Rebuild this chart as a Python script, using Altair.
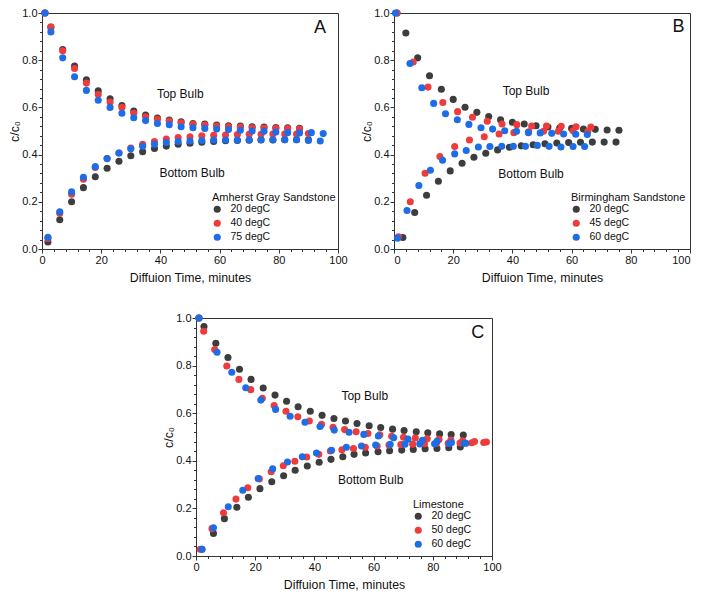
import altair as alt
import pandas as pd

FONT = "Liberation Sans"
GRAY, RED, BLUE = "#3d3d3d", "#f03b3b", "#1c6de6"

# ---------------- Panel A : Amherst Gray Sandstone ----------------
A_labels = ["20 degC", "40 degC", "75 degC"]
A20_top_t = [1, 3, 7, 11, 15, 19, 23, 27, 31, 35, 39, 43, 47, 51, 55, 59, 63, 67, 71, 75, 79, 83, 87]
A20_top_c = [1.0, 0.94, 0.845, 0.775, 0.717, 0.67, 0.637, 0.608, 0.585, 0.568, 0.555, 0.546, 0.539,
             0.532, 0.529, 0.525, 0.522, 0.521, 0.518, 0.517, 0.515, 0.514, 0.512]
A20_bot_t = [2, 6, 10, 14, 18, 22, 26, 30, 34, 38, 42, 46, 50, 54, 58, 62, 66, 70, 74, 78, 82, 86, 90]
A20_bot_c = [0.03, 0.124, 0.2, 0.26, 0.306, 0.342, 0.372, 0.395, 0.412, 0.426, 0.436, 0.444, 0.448,
             0.452, 0.456, 0.459, 0.46, 0.461, 0.462, 0.462, 0.463, 0.463, 0.463]
A40_top_t = [1, 3, 7, 11, 15, 19, 23, 27, 31, 35, 39, 43, 47, 51, 55, 59, 63, 67, 71, 75, 79, 83, 87]
A40_top_c = [1.0, 0.94, 0.84, 0.765, 0.703, 0.655, 0.623, 0.6, 0.575, 0.56, 0.55, 0.542, 0.535,
             0.528, 0.525, 0.521, 0.518, 0.517, 0.514, 0.513, 0.511, 0.51, 0.508]
A40_bot_t = [2, 6, 10, 14, 18, 22, 26, 30, 34, 38, 42, 46, 50, 54, 58, 62, 66, 70, 74, 78, 82, 86, 90]
A40_bot_c = [0.045, 0.152, 0.232, 0.296, 0.345, 0.383, 0.407, 0.428, 0.444, 0.455, 0.466, 0.472, 0.476,
             0.48, 0.482, 0.483, 0.485, 0.486, 0.486, 0.487, 0.487, 0.487, 0.489]
A75_top_t = [1, 3, 7, 11, 15, 19, 23, 27, 31, 35, 39, 43, 47, 51, 55, 59, 63, 67, 71, 75, 79, 83, 87, 91, 95]
A75_top_c = [1.0, 0.92, 0.81, 0.73, 0.672, 0.63, 0.6, 0.575, 0.556, 0.544, 0.532, 0.527, 0.518,
             0.514, 0.511, 0.508, 0.506, 0.503, 0.5, 0.499, 0.496, 0.493, 0.492, 0.493, 0.489]
A75_bot_t = [2, 6, 10, 14, 18, 22, 26, 30, 34, 38, 42, 46, 50, 54, 58, 62, 66, 70, 74, 78, 82, 86, 90, 94]
A75_bot_c = [0.05, 0.158, 0.242, 0.304, 0.349, 0.383, 0.407, 0.425, 0.435, 0.444, 0.451, 0.455, 0.458,
             0.46, 0.462, 0.462, 0.462, 0.463, 0.463, 0.463, 0.463, 0.463, 0.46, 0.458]

# ---------------- Panel B : Birmingham Sandstone ----------------
B_labels = ["20 degC", "45 degC", "60 degC"]
B20_top_t = [1, 4, 8, 12, 16, 20, 24, 28, 32, 36, 40, 44, 48, 52, 56, 60, 64, 68, 72, 76]
B20_top_c = [1.0, 0.915, 0.81, 0.734, 0.677, 0.634, 0.601, 0.579, 0.561, 0.548, 0.537, 0.53, 0.522,
             0.517, 0.514, 0.511, 0.508, 0.507, 0.504, 0.503]
B20_bot_t = [3, 7, 11, 15, 19, 23, 27, 31, 35, 39, 43, 47, 51, 55, 59, 63, 67, 71, 75]
B20_bot_c = [0.049, 0.155, 0.228, 0.287, 0.331, 0.363, 0.389, 0.406, 0.42, 0.431, 0.437, 0.442, 0.446,
             0.449, 0.451, 0.452, 0.453, 0.453, 0.453]
B45_top_t = [1, 6.5, 11.5, 16.5, 21.5, 26.5, 31.5, 36.5, 41.5, 46.5, 51.5, 56.5, 61.5, 66.5]
B45_top_c = [1.0, 0.792, 0.686, 0.621, 0.582, 0.558, 0.541, 0.53, 0.527, 0.521, 0.521, 0.52, 0.518, 0.517]
B45_bot_t = [1.5, 5.5, 10.5, 15.5, 20.5, 25.5, 30.5, 35.5, 40.5, 45.5, 50.5, 55.5, 60.5, 65.5]
B45_bot_c = [0.052, 0.2, 0.321, 0.392, 0.434, 0.462, 0.476, 0.487, 0.493, 0.497, 0.499, 0.499, 0.501, 0.499]
B60_top_t = [0.5, 5.4, 9.4, 13.4, 17.4, 21.4, 25.3, 29.4, 33.3, 37.4, 41.4, 45.4, 49.4, 53.3, 57.3, 61.4, 65.3]
B60_top_c = [1.0, 0.786, 0.683, 0.617, 0.573, 0.548, 0.528, 0.514, 0.508, 0.501, 0.499, 0.493, 0.492,
             0.49, 0.487, 0.486, 0.485]
B60_bot_t = [1.2, 4.4, 8.4, 12.3, 16.4, 20.5, 24.4, 28.5, 32.4, 36.4, 40.3, 44.4, 48.4, 52.4, 56.4, 60.5, 64.4]
B60_bot_c = [0.046, 0.163, 0.269, 0.334, 0.376, 0.403, 0.417, 0.432, 0.434, 0.435, 0.435, 0.435, 0.439,
             0.435, 0.432, 0.434, 0.434]

# ---------------- Panel C : Limestone ----------------
C_labels = ["20 degC", "50 degC", "60 degC"]
C20_top_t = [1, 2.7, 6.7, 10.8, 14.7, 18.6, 22.7, 26.7, 30.6, 34.5, 38.6, 42.6, 46.6, 50.5, 54.4, 58.5,
             62.4, 66.4, 70.3, 74.4, 78.3, 82.3, 86.2, 90.3]
C20_top_c = [1.0, 0.964, 0.894, 0.834, 0.785, 0.742, 0.706, 0.676, 0.65, 0.627, 0.608, 0.591, 0.578,
             0.567, 0.557, 0.547, 0.54, 0.533, 0.527, 0.522, 0.518, 0.513, 0.51, 0.508]
C20_bot_t = [2, 5.9, 9.6, 13.8, 17.7, 21.6, 25.6, 29.6, 33.5, 37.6, 41.6, 45.6, 49.6, 53.4, 57.3, 61.5,
             65.4, 69.5, 73.4, 77.4, 81.4, 85.4, 89.3]
C20_bot_c = [0.028, 0.095, 0.157, 0.205, 0.247, 0.283, 0.312, 0.337, 0.36, 0.378, 0.394, 0.406, 0.417,
             0.427, 0.433, 0.438, 0.442, 0.445, 0.448, 0.451, 0.452, 0.455, 0.458]
C50_top_t = [1, 2.6, 6.3, 10.4, 14.5, 18.5, 22.4, 26.4, 30.4, 34.4, 38.3, 42.4, 46.3, 50.2, 54.1, 58.1,
             62.1, 66.1, 70.1, 74.1, 78.1, 82.1, 86.1, 90.1, 94.1, 98.1]
C50_top_c = [1.0, 0.944, 0.868, 0.798, 0.742, 0.699, 0.663, 0.632, 0.608, 0.585, 0.567, 0.553, 0.541,
             0.531, 0.522, 0.515, 0.509, 0.503, 0.499, 0.496, 0.493, 0.49, 0.487, 0.484, 0.481, 0.479]
C50_bot_t = [1.4, 5.4, 9.3, 13.5, 17.5, 21.4, 25.4, 29.5, 33.4, 37.4, 41.5, 45.4, 49.3, 53.2, 57.2, 61.2,
             65.2, 69.2, 73.2, 77.2, 81.2, 85.2, 89.2, 93.2, 97.2]
C50_bot_c = [0.028, 0.115, 0.182, 0.239, 0.287, 0.324, 0.354, 0.379, 0.398, 0.416, 0.427, 0.441, 0.446,
             0.452, 0.457, 0.462, 0.466, 0.468, 0.47, 0.472, 0.473, 0.474, 0.475, 0.476, 0.477]
C60_top_t = [1, 7.1, 12.1, 16.8, 21.9, 26.9, 31.8, 36.8, 41.9, 46.7, 51.7, 56.7, 61.6, 66.8, 71.6, 76.5,
             81.4, 86.3, 91.2]
C60_top_c = [1.0, 0.856, 0.772, 0.707, 0.655, 0.616, 0.587, 0.562, 0.544, 0.529, 0.52, 0.511, 0.504,
             0.497, 0.491, 0.486, 0.482, 0.477, 0.474]
C60_bot_t = [2, 5.9, 10.9, 15.8, 21, 25.9, 30.9, 35.9, 40.7, 45.8, 50.8, 55.9, 60.7, 65.6, 70.6, 75.6,
             80.6, 85.6, 90.6]
C60_bot_c = [0.028, 0.119, 0.207, 0.276, 0.326, 0.366, 0.395, 0.417, 0.433, 0.444, 0.457, 0.462, 0.466,
             0.469, 0.47, 0.471, 0.472, 0.473, 0.474]

# annotations (data coordinates)
ANN_TEXT = ["Top Bulb", "Bottom Bulb"]
A_ann_t, A_ann_c = [46.7, 50.7], [0.656, 0.322]
B_ann_t, B_ann_c = [44.6, 46.3], [0.67, 0.317]
C_ann_t, C_ann_c = [57.0, 59.0], [0.673, 0.319]
A_letter = ("A", 93.9, 0.935)
B_letter = ("B", 96.1, 0.94)
C_letter = ("C", 95.2, 0.936)

X_TICKS = list(range(0, 101, 4))
Y_TICKS = [round(i * 0.04, 2) for i in range(26)]
Y_MAJOR = "abs(datum.value*5 - round(datum.value*5)) < 0.001"


def xenc(flush):
    return alt.X("t:Q", scale=alt.Scale(domain=[0, 100], nice=False),
                 axis=alt.Axis(values=X_TICKS, title="Diffuion Time, minutes",
                               labelExpr="datum.value % 20 === 0 ? datum.label : ''",
                               tickSize={"condition": {"test": "datum.value % 20 === 0", "value": 4}, "value": 2.5},
                               labelFlush=flush, labelOverlap=False, labelPadding=1, titlePadding=6))


YENC = alt.Y("c:Q", scale=alt.Scale(domain=[0, 1], nice=False),
             axis=alt.Axis(values=Y_TICKS, title="c/c₀", format=".1f",
                           labelExpr=f"{Y_MAJOR} ? datum.label : ''",
                           tickSize={"condition": {"test": Y_MAJOR, "value": 4}, "value": 2.5},
                           labelOverlap=False, labelPadding=1, titlePadding=0))


def panel(key, series, labels, title, ann_t, ann_c, letter, legx, legy, flush=False, height=236):
    XENC = xenc(flush)
    rows = []
    for lab, (tt, cc, t2, c2) in zip(labels, series):
        for a, b in zip(tt, cc):
            rows.append({"t": a, "c": b, key: lab})
        for a, b in zip(t2, c2):
            rows.append({"t": a, "c": b, key: lab})
    df = pd.DataFrame(rows)
    pts = alt.Chart(df).mark_circle(size=50, opacity=1).encode(
        x=XENC, y=YENC,
        color=alt.Color(f"{key}:N", scale=alt.Scale(domain=labels, range=[GRAY, RED, BLUE]),
                        legend=alt.Legend(title=title, orient="none", legendX=legx, legendY=legy,
                                          titleFontWeight="normal", titleFontSize=11, labelFontSize=10.5,
                                          titleFont=FONT, labelFont=FONT, titleColor="#111", labelColor="#111",
                                          symbolType="circle", symbolSize=50, symbolOpacity=1,
                                          symbolStrokeWidth=0, titlePadding=1, rowPadding=3, labelOffset=8)),
    )
    adf = pd.DataFrame({"t": ann_t, "c": ann_c, "txt": ANN_TEXT})
    ann = alt.Chart(adf).mark_text(font=FONT, fontSize=12, color="#111").encode(x=XENC, y=YENC, text="txt:N")
    ldf = pd.DataFrame({"t": [letter[1]], "c": [letter[2]], "txt": [letter[0]]})
    let = alt.Chart(ldf).mark_text(font=FONT, fontSize=18, color="#111").encode(x=XENC, y=YENC, text="txt:N")
    return alt.layer(pts, ann, let).properties(width=296, height=height)


A = panel("sA", [(A20_top_t, A20_top_c, A20_bot_t, A20_bot_c),
                 (A40_top_t, A40_top_c, A40_bot_t, A40_bot_c),
                 (A75_top_t, A75_top_c, A75_bot_t, A75_bot_c)],
          A_labels, "Amherst Gray Sandstone", A_ann_t, A_ann_c, A_letter, 170, 179)
B = panel("sB", [(B20_top_t, B20_top_c, B20_bot_t, B20_bot_c),
                 (B45_top_t, B45_top_c, B45_bot_t, B45_bot_c),
                 (B60_top_t, B60_top_c, B60_bot_t, B60_bot_c)],
          B_labels, "Birmingham Sandstone", B_ann_t, B_ann_c, B_letter, 177, 179, flush=True)
C = panel("sC", [(C20_top_t, C20_top_c, C20_bot_t, C20_bot_c),
                 (C50_top_t, C50_top_c, C50_bot_t, C50_bot_c),
                 (C60_top_t, C60_top_c, C60_bot_t, C60_bot_c)],
          C_labels, "Limestone", C_ann_t, C_ann_c, C_letter, 217, 181, height=238)

spacer = alt.Chart(pd.DataFrame({"a": [0]})).mark_point(opacity=0, size=1).encode(
    x=alt.value(0), y=alt.value(0)).properties(width=120, height=10,
                                                view=alt.ViewBackground(strokeOpacity=0))

row1 = alt.hconcat(A, B, spacing=12).resolve_scale(color="independent").resolve_legend(color="independent")
row2 = alt.hconcat(spacer, C, spacing=0).resolve_scale(color="independent").resolve_legend(color="independent")
chart = alt.vconcat(row1, row2, spacing=27).resolve_scale(color="independent").resolve_legend(
    color="independent").properties(
    padding={"left": 0, "top": -2, "right": 0, "bottom": 0}
).configure_view(stroke="#333", strokeWidth=1).configure_axis(
    labelFont=FONT, titleFont=FONT, labelFontSize=11, titleFontSize=12.3, titleFontWeight="normal",
    labelColor="#111", titleColor="#111", domainColor="#333", tickColor="#333", grid=False
)

chart.save("out.html", embed_options={"renderer": "svg", "actions": False})
